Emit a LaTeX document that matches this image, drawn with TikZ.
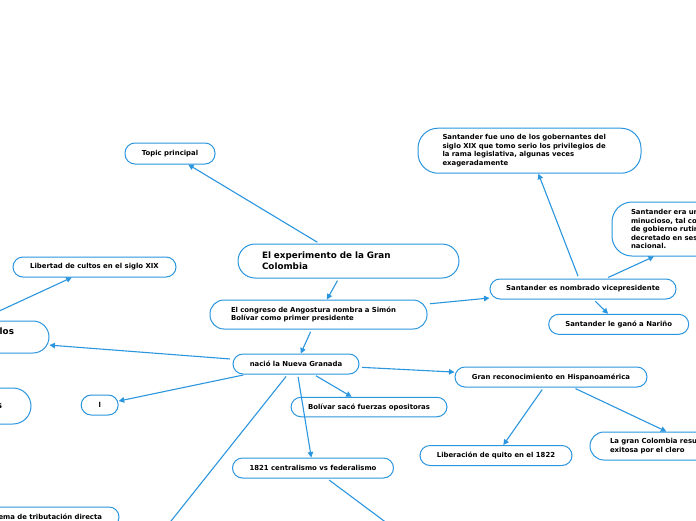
\documentclass[tikz,border=0pt]{standalone}
\usepackage{fontspec}
\setmainfont{DejaVu Sans}
\usetikzlibrary{arrows.meta}
\definecolor{mmblue}{RGB}{43,150,222}
\tikzset{
  mmbox/.style={draw=mmblue, line width=1pt, fill=white, text=black, inner sep=0pt,
    rounded corners=10pt, font=\bfseries\fontsize{6.9}{8.5}\selectfont, align=center},
  mmbig/.style={mmbox, font=\bfseries\fontsize{8.8}{11}\selectfont},
  mmlink/.style={draw=mmblue, line width=1.1pt, shorten <=2.5pt},
  mmarrow/.style={mmlink, -{Triangle[length=5.5pt,width=5.5pt]}}
}
\begin{document}
\begin{tikzpicture}[x=1pt,y=-1pt]
\useasboundingbox (0,0) rectangle (696,520);
\clip (0,0) rectangle (696,520);
% nodes
\node[mmbox, minimum width=90pt, minimum height=21pt] (topic) at (170,153.5) {Topic principal};
\node[mmbig, minimum width=221pt, minimum height=34pt, text width=173pt, inner xsep=24pt, align=left, rounded corners=17pt] (exp) at (348.5,261) {El experimento de la Gran\\Colombia};
\node[mmbox, minimum width=217pt, minimum height=29pt, text width=175pt, inner xsep=21pt, align=left, rounded corners=14pt] (cong) at (318.5,314.5) {El congreso de Angostura nombra a Simón\\Bolívar como primer presidente};
\node[mmbox, minimum width=126pt, minimum height=20pt] (nacio) at (296,364) {nació la Nueva Granada};
\node[mmbox, minimum width=163pt, minimum height=20pt] (libertad) at (94.5,267) {Libertad de cultos en el siglo XIX};
\node[mmbig, minimum width=212pt, minimum height=32pt, text width=142pt, inner xsep=35pt, align=right, rounded corners=16pt] (los) at (-57,337) {\raisebox{2.5pt}[0pt][0pt]{los}};
\node[mmbig, minimum width=200pt, minimum height=36pt, text width=142pt, inner xsep=29pt, align=right, rounded corners=18pt] (sn) at (-69,406) {s};
\node[mmbox, minimum width=37pt, minimum height=20pt] (l) at (99.7,405) {l};
\node[mmbox, minimum width=180pt, minimum height=20pt, text width=146pt, inner xsep=17pt, align=right] (ema) at (29,517) {ema de tributación directa};
\node[mmbox, minimum width=156pt, minimum height=19.5pt] (bolivar) at (369,407) {Bolívar sacó fuerzas opositoras};
\node[mmbox, minimum width=161pt, minimum height=20pt] (cent) at (313,468) {1821 centralismo vs federalismo};
\node[mmbox, minimum width=192pt, minimum height=20pt] (granrec) at (551,377) {Gran reconocimiento en Hispanoamérica};
\node[mmbox, minimum width=152pt, minimum height=20pt] (liber) at (496,455.5) {Liberación de quito en el 1822};
\node[mmbox, minimum width=214pt, minimum height=28pt, text width=174pt, inner xsep=20pt, align=left, rounded corners=14pt] (lagran) at (697,446) {La gran Colombia resu\\exitosa por el clero};
\node[mmbox, minimum width=186pt, minimum height=20pt] (svice) at (583,289) {Santander es nombrado vicepresidente};
\node[mmbox, minimum width=140pt, minimum height=20pt] (sgano) at (618.7,324.3) {Santander le ganó a Nariño};
\node[mmbox, minimum width=223pt, minimum height=45pt, text width=174pt, inner xsep=24.5pt, align=left, rounded corners=20pt] (sfue) at (529.5,150.7) {Santander fue uno de los gobernantes del\\siglo XIX que tomo serio los privilegios de\\la rama legislativa, algunas veces\\exageradamente};
\node[mmbox, minimum width=204pt, minimum height=54pt, text width=166pt, inner xsep=19pt, align=left, rounded corners=20pt] (sera) at (714,229) {Santander era un\\minucioso, tal co\\de gobierno rutin\\decretado en ses\\nacional.};
\coordinate (offa) at (140,560);
\coordinate (offb) at (423,550);
% connectors
\draw[mmarrow] (exp) -- (topic);
\draw[mmarrow] (exp) -- (cong);
\draw[mmarrow] (cong) -- (nacio);
\draw[mmarrow] (cong) -- (svice);
\draw[mmarrow] (svice) -- (sfue);
\draw[mmarrow] (svice) -- (sera);
\draw[mmarrow] (svice) -- (sgano);
\draw[mmarrow] (nacio) -- (los);
\draw[mmarrow] (los) -- (libertad);
\draw[mmarrow] (nacio) -- (l);
\draw[mmlink] (nacio) -- (offa);
\draw[mmarrow] (nacio) -- (cent);
\draw[mmarrow] (nacio) -- (bolivar);
\draw[mmarrow] (nacio) -- (granrec);
\draw[mmarrow] (granrec) -- (liber);
\draw[mmarrow] (granrec) -- (lagran);
\draw[mmlink] (cent) -- (offb);
\end{tikzpicture}
\end{document}
